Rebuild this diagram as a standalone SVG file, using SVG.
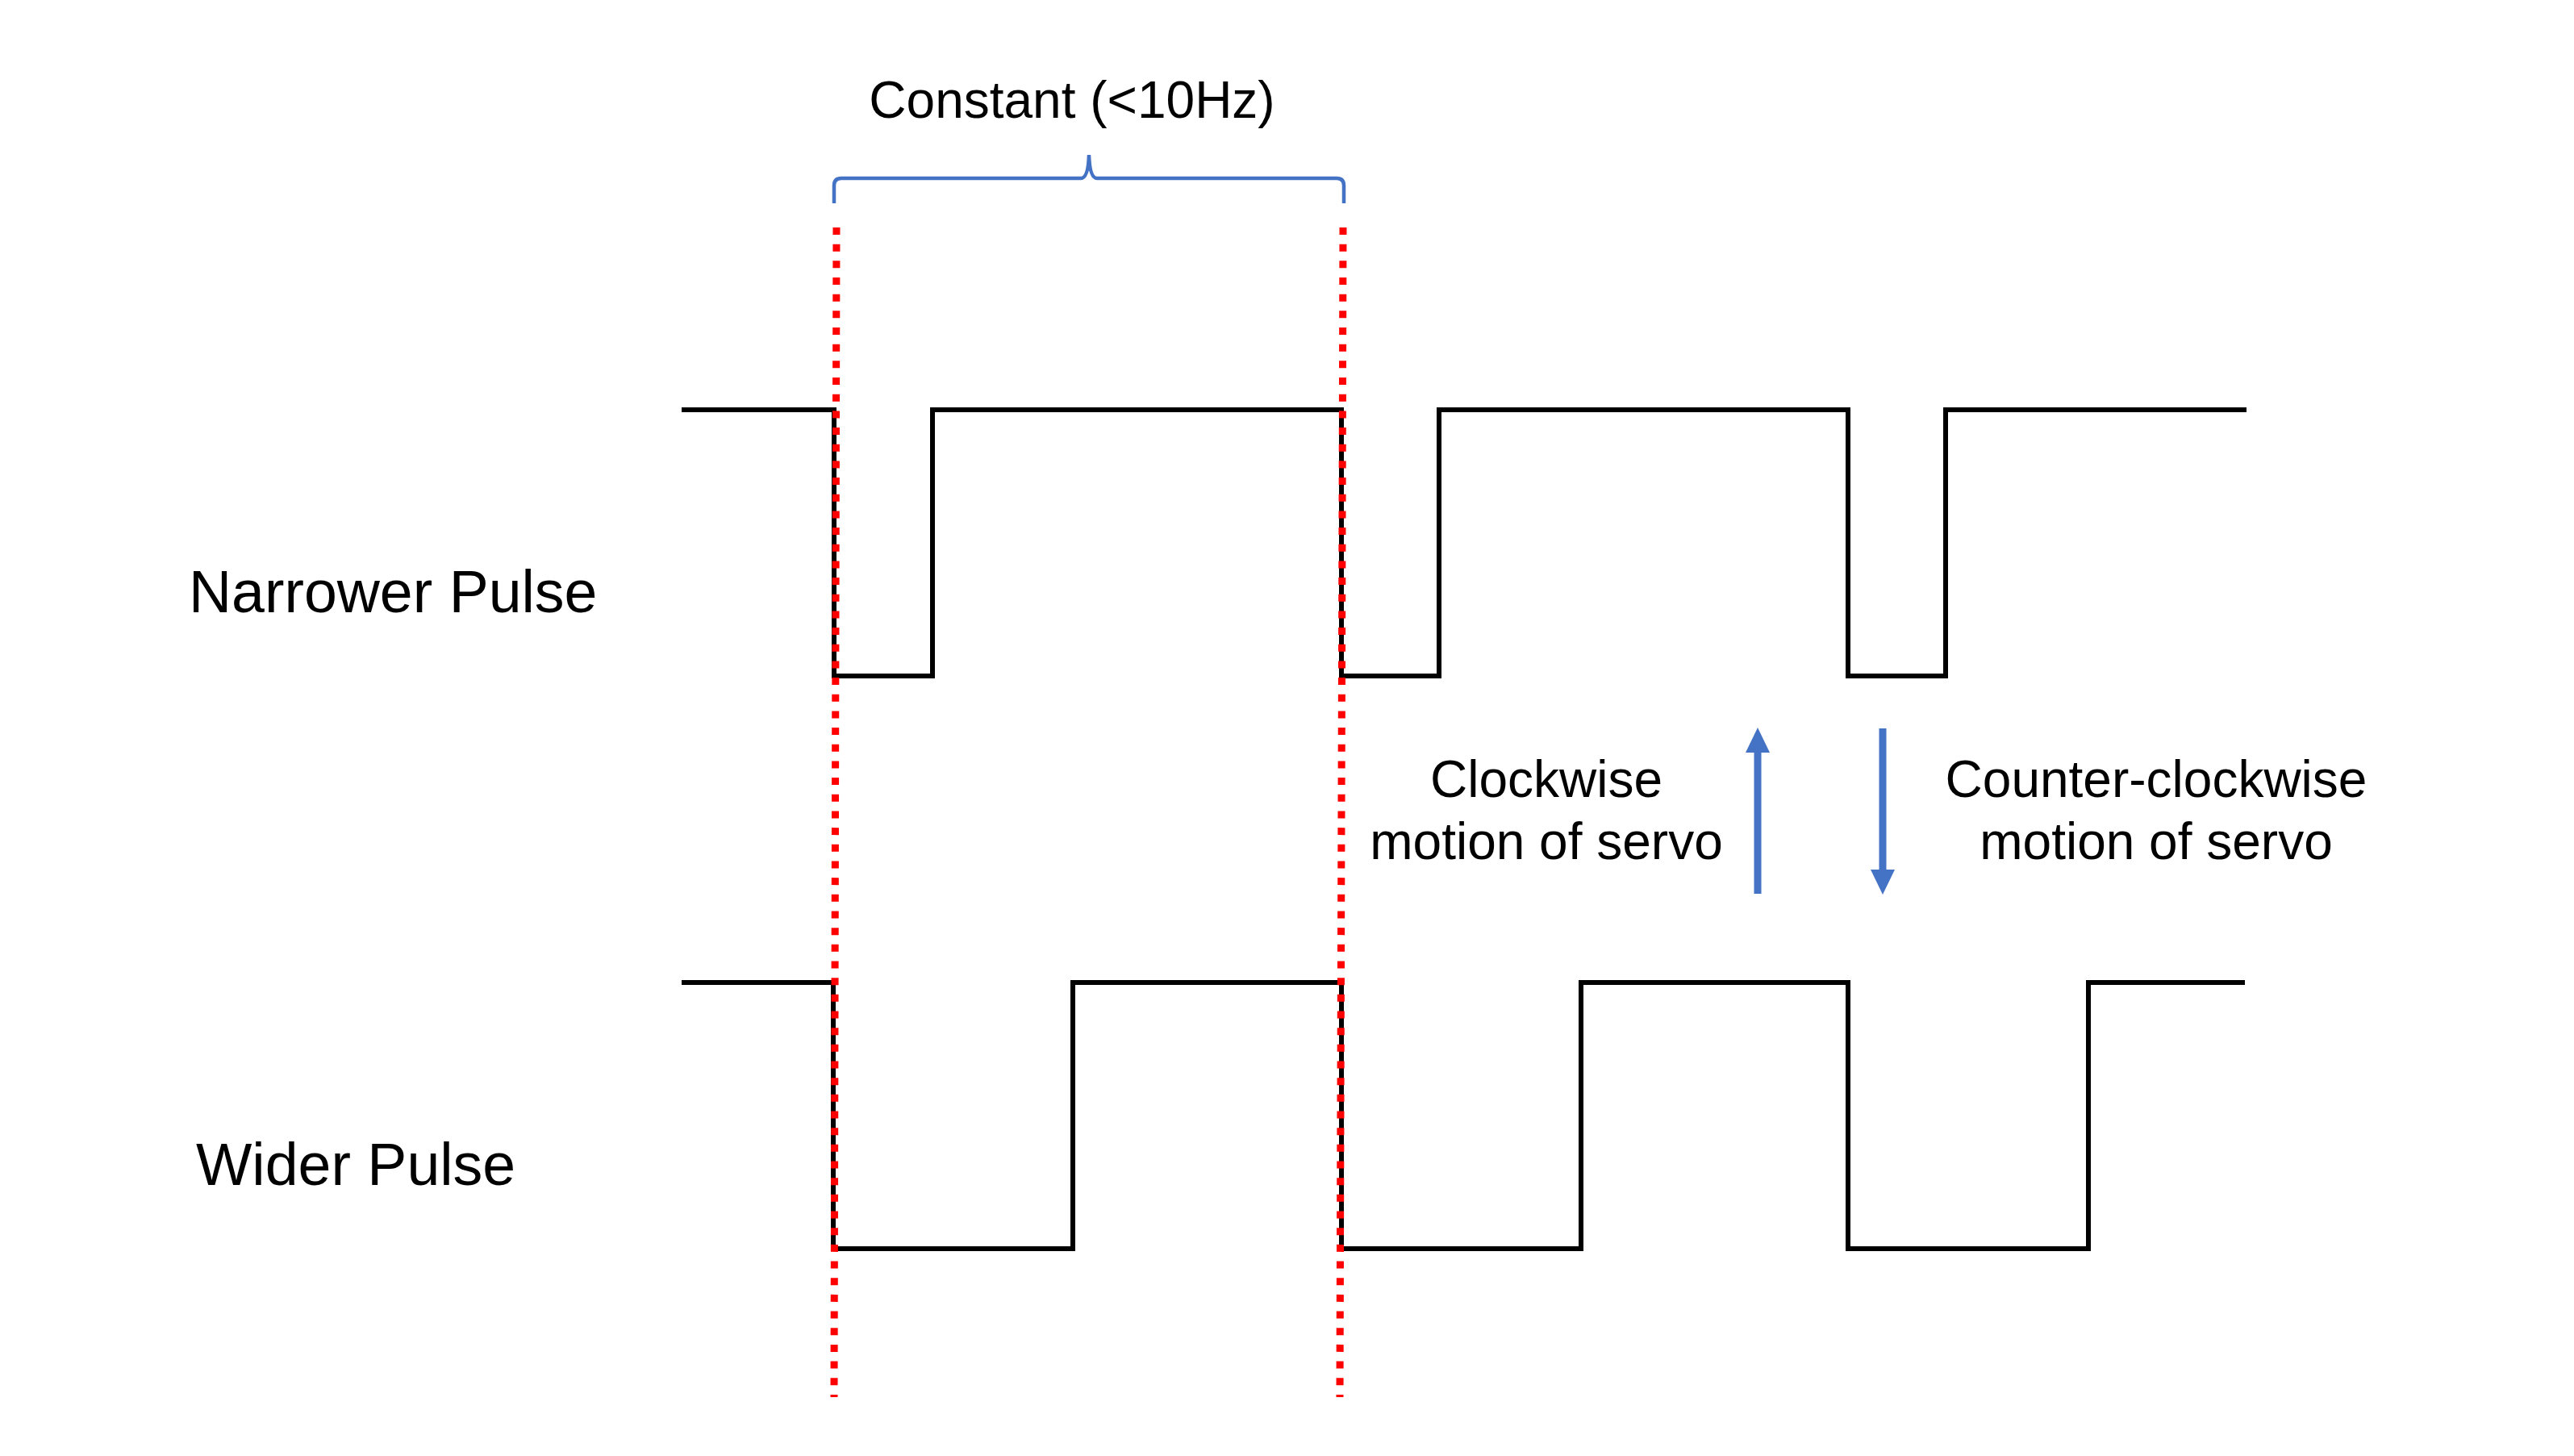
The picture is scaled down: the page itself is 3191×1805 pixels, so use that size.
<svg xmlns="http://www.w3.org/2000/svg" width="3191" height="1805" viewBox="0 0 3191 1805">
<style>
.wave{fill:none;stroke:#000;stroke-width:6;stroke-linejoin:miter}
.guide{fill:none;stroke:#FF0000;stroke-width:9;stroke-dasharray:9 11.67}
.brace{fill:none;stroke:#4472C4;stroke-width:4.5;stroke-linecap:butt}
.shaft{stroke:#4472C4;stroke-width:9}
.head{fill:#4472C4}
text{font-family:"Liberation Sans",Arial,sans-serif;fill:#000}
.lbl{font-size:73.5px}
.note{font-size:64px;text-anchor:middle}
</style>
<rect width="3191" height="1805" fill="#fff"/>
<g id="narrower-pulse">
<path class="wave" d="M845,508 H1034 V838 H1156 V508 H1663 V838 H1784 V508 H2291 V838 H2412 V508 H2785"/>
<text class="lbl" x="234" y="759">Narrower Pulse</text>
</g>
<g id="wider-pulse">
<path class="wave" d="M845,1218 H1033 V1548 H1330 V1218 H1663 V1548 H1960 V1218 H2291 V1548 H2589 V1218 H2783"/>
<text class="lbl" x="243" y="1469">Wider Pulse</text>
</g>
<g id="period-guides">
<line class="guide" x1="1037" y1="282" x2="1034" y2="1732"/>
<line class="guide" x1="1665" y1="282" x2="1661" y2="1732"/>
</g>
<g id="constant-brace">
<path class="brace" d="M1034,252 V230 Q1034,221 1043,221 H1340 Q1349,221 1350,192 Q1351,221 1360,221 H1657 Q1666,221 1666,230 V252"/>
<text class="note" x="1329" y="146">Constant (&lt;10Hz)</text>
</g>
<g id="connectors">
<line class="shaft" x1="2179" y1="1108" x2="2179" y2="930"/>
<polygon class="head" points="2179,902 2194,933 2164,933"/>
<line class="shaft" x1="2334" y1="903" x2="2334" y2="1081"/>
<polygon class="head" points="2334,1109 2349,1078 2319,1078"/>
</g>
<g id="clockwise-label">
<text class="note" x="1917" y="988">Clockwise</text>
<text class="note" x="1917" y="1065">motion of servo</text>
</g>
<g id="counter-clockwise-label">
<text class="note" x="2673" y="988">Counter-clockwise</text>
<text class="note" x="2673" y="1065">motion of servo</text>
</g>
</svg>
